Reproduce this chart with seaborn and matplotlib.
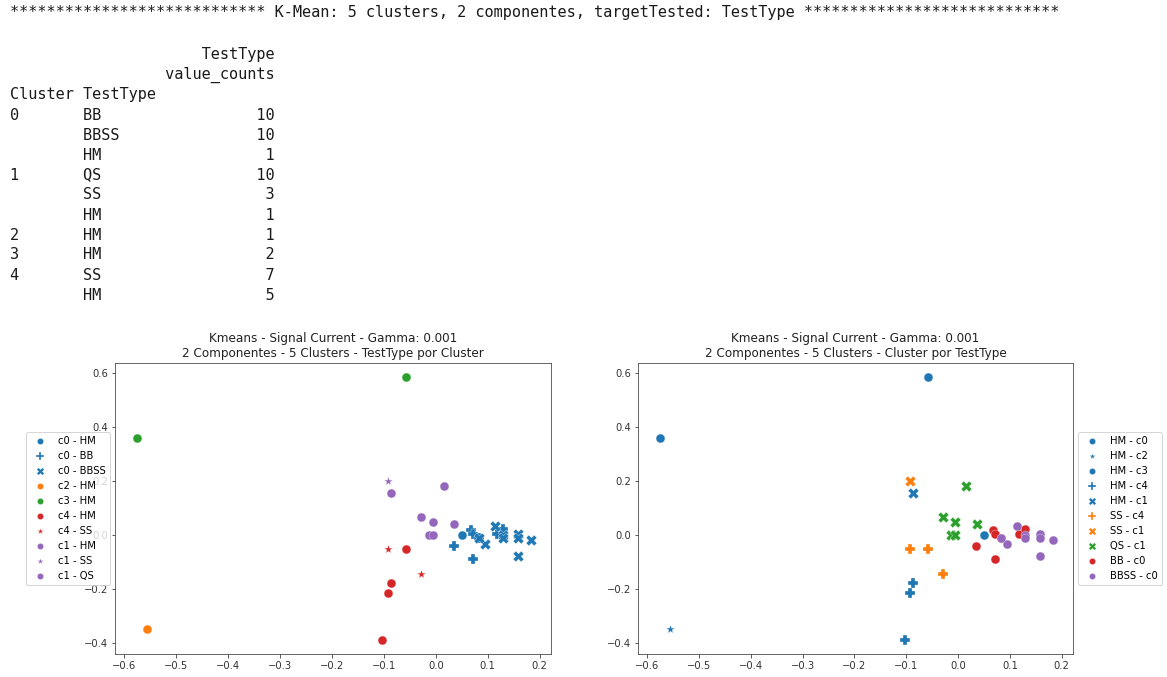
import matplotlib
matplotlib.use("Agg")
import matplotlib.pyplot as plt
import numpy as np
import pandas as pd
import seaborn as sns

W, H, DPI = 1167, 677, 72

# ---- summary printed above the plots ----
header_line = "*" * 28 + " K-Mean: 5 clusters, 2 componentes, targetTested: TestType " + "*" * 28
table_clusters = ["0", "", "", "1", "", "", "2", "3", "4", ""]
table_types = ["BB", "BBSS", "HM", "QS", "SS", "HM", "HM", "HM", "SS", "HM"]
table_counts = [10, 10, 1, 10, 3, 1, 1, 2, 7, 5]

# ---- 2-component projection, one row per sample ----
pc1 = [0.050,
       0.035, 0.068, 0.071, 0.071, 0.083, 0.118, 0.129,
       0.114, 0.094, 0.129, 0.129, 0.158, 0.158, 0.158, 0.184, 0.083,
       -0.557,
       -0.575, -0.058,
       -0.058, -0.087, -0.093, -0.103,
       -0.093, -0.058, -0.029,
       -0.087,
       -0.093,
       -0.029, -0.006, 0.015, 0.036, -0.014, -0.006]
pc2 = [0.000,
       -0.041, 0.019, 0.004, -0.088, -0.009, 0.004, 0.024,
       0.032, -0.033, 0.000, -0.012, 0.004, -0.009, -0.076, -0.017, -0.009,
       -0.348,
       0.359, 0.585,
       -0.050, -0.176, -0.213, -0.389,
       -0.051, -0.051, -0.145,
       0.155,
       0.200,
       0.068, 0.049, 0.180, 0.042, 0.000, 0.000]
cluster = (["c0"] * 1 + ["c0"] * 7 + ["c0"] * 9 + ["c2"] + ["c3"] * 2
           + ["c4"] * 4 + ["c4"] * 3 + ["c1"] + ["c1"] + ["c1"] * 6)
test_type = (["HM"] + ["BB"] * 7 + ["BBSS"] * 9 + ["HM"] + ["HM"] * 2
             + ["HM"] * 4 + ["SS"] * 3 + ["HM"] + ["SS"] + ["QS"] * 6)

df = pd.DataFrame({"pc1": pc1, "pc2": pc2, "Cluster": cluster, "TestType": test_type})

blue, orange, green, red, purple = "#1f77b4", "#ff7f0e", "#2ca02c", "#d62728", "#9467bd"

# left panel: colour by cluster, marker by test type
left_groups = [("c0", "HM"), ("c0", "BB"), ("c0", "BBSS"), ("c2", "HM"), ("c3", "HM"),
               ("c4", "HM"), ("c4", "SS"), ("c1", "HM"), ("c1", "SS"), ("c1", "QS")]
cluster_colors = {"c0": blue, "c2": orange, "c3": green, "c4": red, "c1": purple}
type_markers = {"HM": "o", "BB": "P", "BBSS": "X", "SS": "*", "QS": "o"}

# right panel: colour by test type, marker by cluster
right_groups = [("HM", "c0"), ("HM", "c2"), ("HM", "c3"), ("HM", "c4"), ("HM", "c1"),
                ("SS", "c4"), ("SS", "c1"), ("QS", "c1"), ("BB", "c0"), ("BBSS", "c0")]
type_colors = {"HM": blue, "SS": orange, "QS": green, "BB": red, "BBSS": purple}
cluster_markers = {"c0": "o", "c2": "*", "c3": "o", "c4": "P", "c1": "X"}

fig = plt.figure(figsize=(W / DPI, H / DPI), dpi=DPI)

mono = dict(family="DejaVu Sans Mono", fontsize=15.2, ha="left", va="center", color="#1a1a1a")
fig.text(10 / W, 1 - 12 / H, header_line, **mono)
table_lines = [" " * 21 + "TestType", " " * 17 + "value_counts", "Cluster TestType"]
for cl, tt, n in zip(table_clusters, table_types, table_counts):
    table_lines.append(f"{cl:<8}{tt:<8}{n:>13}")
for i, line in enumerate(table_lines):
    fig.text(10 / W, 1 - (55 + 20 * i) / H, line, **mono)

ax_l = fig.add_axes([115 / W, 23 / H, 436 / W, 291 / H])
ax_r = fig.add_axes([638 / W, 23 / H, 435 / W, 291 / H])

# point areas per glyph so that crosses read as large as the discs
SIZES = {"o": 80, "P": 115, "X": 115, "*": 85}

for cl, tt in left_groups:
    sub = df[(df.Cluster == cl) & (df.TestType == tt)]
    m = type_markers[tt]
    sns.scatterplot(data=sub, x="pc1", y="pc2", color=cluster_colors[cl],
                    marker=m, s=SIZES[m], linewidth=0.3,
                    zorder=1.9 if m == "*" else 2, ax=ax_l, label=f"{cl} - {tt}")
for tt, cl in right_groups:
    sub = df[(df.Cluster == cl) & (df.TestType == tt)]
    m = cluster_markers[cl]
    sns.scatterplot(data=sub, x="pc1", y="pc2", color=type_colors[tt],
                    marker=m, s=SIZES[m], linewidth=0.3,
                    ax=ax_r, label=f"{tt} - {cl}")

titles = ["Kmeans - Signal Current - Gamma: 0.001\n2 Componentes - 5 Clusters - TestType por Cluster",
          "Kmeans - Signal Current - Gamma: 0.001\n2 Componentes - 5 Clusters - Cluster por TestType"]
for ax, title in zip((ax_l, ax_r), titles):
    ax.set_xlim(-0.618, 0.222)
    ax.set_ylim(-0.44, 0.637)
    ax.set_xticks(np.arange(-0.6, 0.21, 0.1))
    ax.set_yticks([-0.4, -0.2, 0.0, 0.2, 0.4, 0.6])
    ax.set_xlabel("")
    ax.set_ylabel("")
    ax.set_title(title, fontsize=12, color="#222222")
    ax.tick_params(colors="#333333", labelsize=10)
    for sp in ax.spines.values():
        sp.set_color("#444444")

ax_l.legend(loc="center right", bbox_to_anchor=(0, 0.5), fontsize=10, markerscale=0.7)
ax_r.legend(loc="center left", bbox_to_anchor=(1, 0.5), fontsize=10, markerscale=0.7)

fig.savefig("out.png", dpi=DPI)
